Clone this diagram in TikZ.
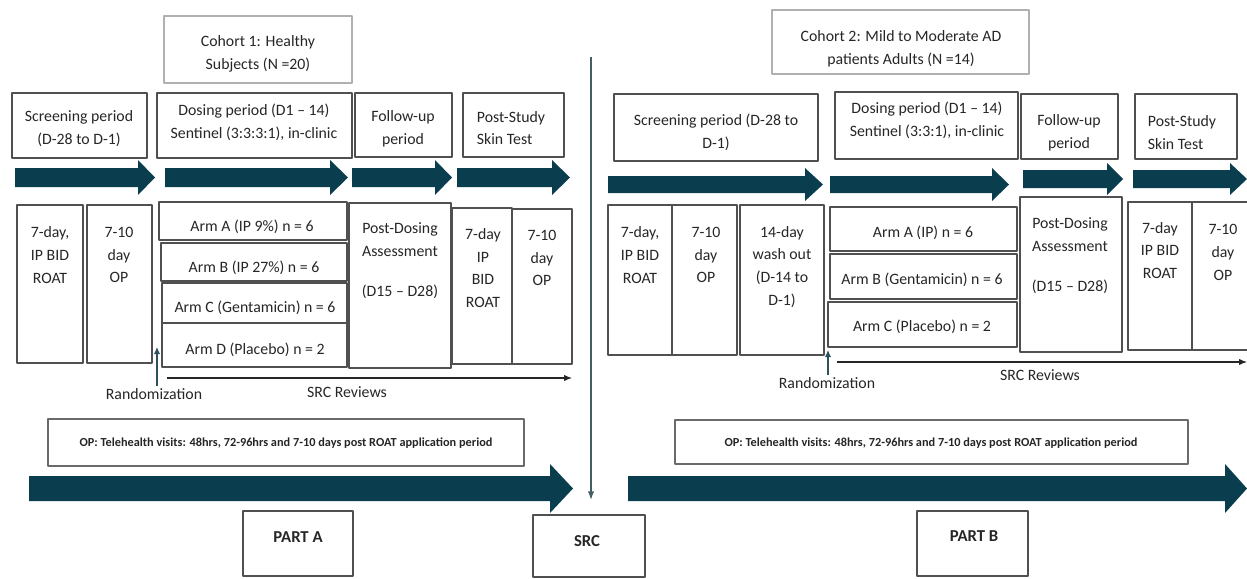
\documentclass[tikz,border=0pt]{standalone}
\usepackage{fontspec}
\setmainfont{Carlito}
\definecolor{flowteal}{HTML}{0A3D4D}
\definecolor{boxedge}{HTML}{505050}
\definecolor{softedge}{HTML}{B0B0B0}
\definecolor{inkgray}{HTML}{262626}
\usetikzlibrary{arrows.meta,fit}

\begin{document}
\begin{tikzpicture}[
  x=0.02cm,
  y=-0.02cm,
  line join=round,
  flow/.style={fill=flowteal,draw=none},
  box/.style={draw=boxedge,line width=0.9pt,inner sep=0pt},
  cohortbox/.style={box,draw=softedge},
  notebox/.style={box,draw=boxedge!85},
  txt/.style={font=\fontsize{9}{13}\selectfont,text=inkgray,align=center,inner sep=1pt},
  notetxt/.style={font=\fontsize{7}{8}\selectfont\bfseries,text=inkgray,inner sep=1pt},
  parttxt/.style={font=\fontsize{9.5}{11}\selectfont\bfseries,text=inkgray,inner sep=1pt},
  review/.style={draw=inkgray,line width=0.6pt,-{Latex[length=4.5pt,width=3.6pt]}},
  randarrow/.style={draw=flowteal!70!gray,line width=0.6pt,-{Latex[length=4pt,width=3.6pt]}},
  srcline/.style={draw=flowteal!50!gray,line width=0.8pt,-{Latex[length=5pt,width=3.6pt]}}
]
  \useasboundingbox (0,0) rectangle (1247,578);

  \foreach \xa/\xb/\yc/\sh/\hh/\hl in {15/155/177.5/9.5/17.5/17, 165/348/177.5/9.5/17.5/18,
      352/452/177.5/9.5/17.5/17, 457/570/177.5/9.5/17.5/18, 608/823/184.5/8.5/16.5/18,
      830/1009/184.5/8.5/16.5/17, 1023/1123/179/9/16/16, 1133/1247/179/9/16/17,
      29/573/488.5/12.5/24.5/23, 628/1247/488.5/12.5/24.5/22} {
    \fill[flow] (\xa,\yc-\sh) -- (\xb-\hl,\yc-\sh) -- (\xb-\hl,\yc-\hh) -- (\xb,\yc)
      -- (\xb-\hl,\yc+\hh) -- (\xb-\hl,\yc+\sh) -- (\xa,\yc+\sh) -- cycle;
  }

  \node[cohortbox,fit={(164,16) (352,83)}] (cohA) {};
  \node[txt] (cohAt) at (258,54) {Cohort 1: Healthy\\Subjects (N =20)};
  \node[box,fit={(12,93) (147,158)}] (scrA) {};
  \node[txt] (scrAt) at (79,129) {Screening period\\(D-28 to D-1)};
  \node[box,fit={(157,93) (352,158)}] (dosA) {};
  \node[txt] (dosAt) at (254,122) {Dosing period (D1 – 14)\\Sentinel (3:3:3:1), in-clinic};
  \node[box,fit={(355,93) (452,157)}] (fupA) {};
  \node[txt] (fupAt) at (403,129) {Follow-up\\period};
  \node[box,fit={(463,93) (564,157)}] (pstA) {};
  \node[txt,align=left] (pstAt) at (511,128) {Post-Study\\Skin Test};

  \node[box,fit={(17,205) (83,363)}] (roatA) {};
  \node[txt] (roatAt) at (50,255) {7-day,\\IP BID\\ROAT};
  \node[box,fit={(87,205) (152,363)}] (opA) {};
  \node[txt] (opAt) at (119,255) {7-10\\day\\OP};
  \node[box,fit={(159,202) (347,240)}] (armAa) {};
  \node[txt] (armAat) at (252,227) {Arm A (IP 9\%) n = 6};
  \node[box,fit={(161,243) (347,281)}] (armAb) {};
  \node[txt] (armAbt) at (254,268) {Arm B (IP 27\%) n = 6};
  \node[box,fit={(162,283) (347,323)}] (armAc) {};
  \node[txt] (armAct) at (255,308) {Arm C (Gentamicin) n = 6};
  \node[box,fit={(162,323) (347,367)}] (armAd) {};
  \node[txt] (armAdt) at (255,350) {Arm D (Placebo) n = 2};
  \node[box,fit={(349,203) (451,368)}] (pdoA) {};
  \node[txt] (pdoAt) at (400,261) {Post-Dosing\\Assessment\\[10pt](D15 – D28)};
  \node[box,fit={(452,208) (512,364)}] (roatA2) {};
  \node[txt] (roatA2t) at (483,268) {7-day\\IP\\BID\\ROAT};
  \node[box,fit={(512,209) (572,364)}] (opA2) {};
  \node[txt] (opA2t) at (542,258) {7-10\\day\\OP};

  \node[txt] (randA) at (154,394) {Randomization};
  \coordinate (randAtip) at (157,347);
  \draw[randarrow] (randA.north -| randAtip) -- (randAtip);
  \coordinate (revAstart) at (167,378);
  \coordinate (revAend) at (572,378);
  \draw[review] (revAstart) -- (revAend);
  \node[txt] (revA) at (347,392) {SRC Reviews};

  \node[notebox,fit={(48,419) (524,466)}] (teleA) {};
  \node[notetxt] (teleAt) at (286,443) {OP: Telehealth visits: 48hrs, 72-96hrs and 7-10 days post ROAT application period};
  \node[box,fit={(243,511) (353,576)}] (partA) {};
  \node[parttxt] (partAt) at (298,537) {PART A};

  \node[box,fit={(533,515) (645,577)}] (src) {};
  \node[parttxt] (srct) at (587,541) {SRC};
  \coordinate (divtop) at (591,57);
  \draw[srcline,shorten >=8pt] (divtop) -- (divtop |- src.north);

  \node[cohortbox,fit={(772,10) (1029,74)}] (cohB) {};
  \node[txt] (cohBt) at (901,48.5) {Cohort 2: Mild to Moderate AD\\patients Adults (N =14)};
  \node[box,fit={(614,94) (818,161)}] (scrB) {};
  \node[txt] (scrBt) at (716,132.5) {Screening period (D-28 to\\D-1)};
  \node[box,fit={(835,92) (1018,159)}] (dosB) {};
  \node[txt] (dosBt) at (927,120) {Dosing period (D1 – 14)\\Sentinel (3:3:1), in-clinic};
  \node[box,fit={(1021,94) (1118,159)}] (fupB) {};
  \node[txt] (fupBt) at (1069,132.5) {Follow-up\\period};
  \node[box,fit={(1135,94) (1237,159)}] (pstB) {};
  \node[txt,align=left] (pstBt) at (1182,132.5) {Post-Study\\Skin Test};

  \node[box,fit={(608,205) (672,355)}] (roatB) {};
  \node[txt] (roatBt) at (640,255) {7-day,\\IP BID\\ROAT};
  \node[box,fit={(672,205) (737,355)}] (opB) {};
  \node[txt] (opBt) at (706,255) {7-10\\day\\OP};
  \node[box,fit={(740,205) (824,355)}] (washB) {};
  \node[txt] (washBt) at (782,267) {14-day\\wash out\\(D-14 to\\D-1)};
  \node[box,fit={(830,207) (1017,251)}] (armBa) {};
  \node[txt] (armBat) at (923,233) {Arm A (IP) n = 6};
  \node[box,fit={(830,254) (1017,299)}] (armBb) {};
  \node[txt] (armBbt) at (922,280) {Arm B (Gentamicin) n = 6};
  \node[box,fit={(828,302) (1017,347)}] (armBc) {};
  \node[txt] (armBct) at (922,327) {Arm C (Placebo) n = 2};
  \node[box,fit={(1020,197) (1122,352)}] (pdoB) {};
  \node[txt] (pdoBt) at (1070,255.5) {Post-Dosing\\Assessment\\[10pt](D15 – D28)};
  \node[box,fit={(1128,202) (1192,350)}] (roatB2) {};
  \node[txt] (roatB2t) at (1160,250.5) {7-day\\IP BID\\ROAT};
  \node[box,fit={(1192,202) (1250,350)}] (opB2) {};
  \node[txt] (opB2t) at (1223,252.5) {7-10\\day\\OP};

  \node[txt] (randB) at (827,383) {Randomization};
  \coordinate (randBtip) at (828,350);
  \draw[randarrow] (randB.north -| randBtip) -- (randBtip);
  \coordinate (revBstart) at (837,362);
  \coordinate (revBend) at (1247,362);
  \draw[review] (revBstart) -- (revBend);
  \node[txt] (revB) at (1040,375) {SRC Reviews};

  \node[notebox,fit={(675,420) (1188,464)}] (teleB) {};
  \node[notetxt] (teleBt) at (931,443) {OP: Telehealth visits: 48hrs, 72-96hrs and 7-10 days post ROAT application period};
  \node[box,fit={(917,511) (1028,576)}] (partB) {};
  \node[parttxt] (partBt) at (974,536) {PART B};
\end{tikzpicture}
\end{document}
